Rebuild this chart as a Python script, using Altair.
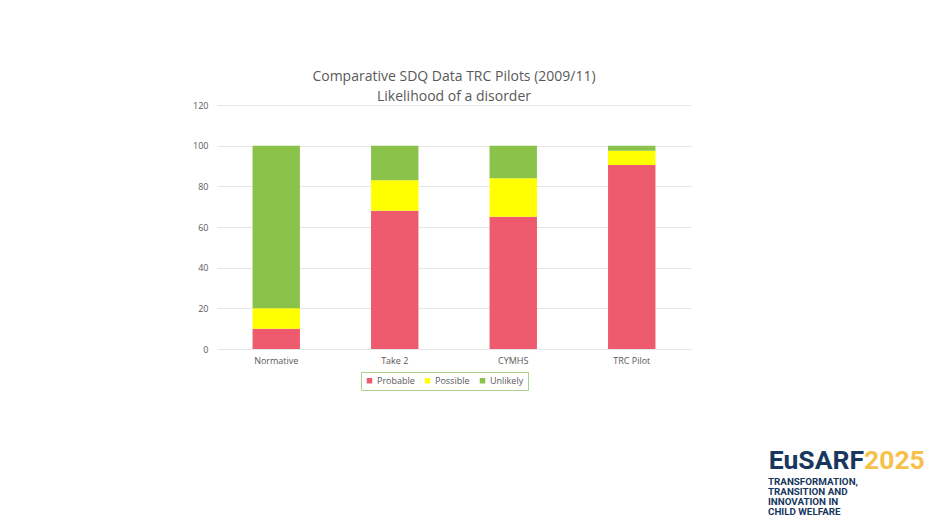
import altair as alt
import pandas as pd

categories = ["Normative", "Take 2", "CYMHS", "TRC Pilot"]
series = ["Probable", "Possible", "Unlikely"]
probable = [10, 68, 65, 90.5]
possible = [10, 15, 19, 7]
unlikely = [80, 17, 16, 2.5]
colors = ["#EE5A6E", "#FFFF00", "#8BC34A"]
title_lines = ["Comparative SDQ Data TRC Pilots (2009/11)", "Likelihood of a disorder"]
y_ticks = [0, 20, 40, 60, 80, 100, 120]

logo_main = "EuSARF"
logo_year = "2025"
logo_lines = ["TRANSFORMATION,", "TRANSITION AND", "INNOVATION IN", "CHILD WELFARE"]

rows = []
for i, c in enumerate(categories):
    for j, (s, vals) in enumerate(zip(series, [probable, possible, unlikely])):
        rows.append({"Category": c, "Series": s, "Value": vals[i], "Order": j})
df = pd.DataFrame(rows)

FONT = "Open Sans"
GREY = "#595959"

bars = alt.Chart(df).mark_bar().encode(
    x=alt.X("Category:N", sort=categories,
            scale=alt.Scale(paddingInner=0.6, paddingOuter=0.3),
            axis=alt.Axis(title=None, labelAngle=0, domain=False, ticks=False,
                          labelPadding=7, labelFontSize=9, labelColor=GREY, labelFont=FONT)),
    y=alt.Y("Value:Q", stack="zero",
            scale=alt.Scale(domain=[0, 120]),
            axis=alt.Axis(title=None, values=y_ticks, domain=False, ticks=False,
                          labelPadding=9, labelFontSize=9, labelColor=GREY, labelFont=FONT,
                          gridColor="#E6E6E6", gridWidth=1)),
    color=alt.Color("Series:N", sort=series,
                    scale=alt.Scale(domain=series, range=colors),
                    legend=alt.Legend(title=None, orient="none", legendX=144, legendY=267,
                                      direction="horizontal", columns=3,
                                      symbolType="square", symbolSize=30, symbolStrokeWidth=0,
                                      labelFontSize=9, labelColor=GREY, labelFont=FONT,
                                      strokeColor="#A9D18E", padding=4, columnPadding=8,
                                      labelOffset=3)),
    order=alt.Order("Order:Q", sort="ascending"),
)

logo_df = pd.DataFrame({"main": [logo_main], "year": [logo_year]})
logo_main_t = alt.Chart(logo_df).mark_text(
    align="right", baseline="alphabetic", font="Roboto", fontSize=26.5, fontWeight="bold",
    color="#17375E").encode(x=alt.value(647), y=alt.value(364), text="main:N")
logo_year_t = alt.Chart(logo_df).mark_text(
    align="left", baseline="alphabetic", font="Roboto", fontSize=26.5, fontWeight="bold",
    color="#F7C04A").encode(x=alt.value(647), y=alt.value(364), text="year:N")

sub_df = pd.DataFrame({"line": ["\n".join(logo_lines)]})
logo_sub = alt.Chart(sub_df).mark_text(
    align="left", baseline="alphabetic", font="Roboto", fontSize=9.8, fontWeight="bold",
    color="#17375E", lineHeight=10, lineBreak="\n").encode(
    x=alt.value(551), y=alt.value(380), text="line:N")

chart = alt.layer(bars, logo_main_t, logo_year_t, logo_sub).properties(
    width=474, height=244,
    title=alt.TitleParams(text=title_lines, fontSize=14, fontWeight="normal", color=GREY,
                          font=FONT, anchor="middle", offset=-3, lineHeight=20),
    autosize=alt.AutoSizeParams(type="none"),
    padding={"left": 209, "top": 97, "right": 247, "bottom": 175},
    background="white",
).configure_view(stroke=None)

chart.save("out.html", embed_options={"renderer": "svg", "actions": False})
